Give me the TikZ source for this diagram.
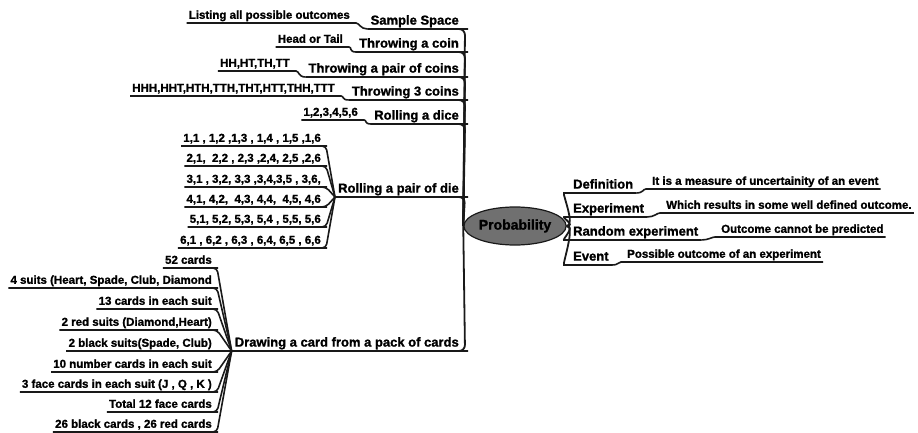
\documentclass[tikz,border=0pt]{standalone}
\usepackage{fontspec}
\setmainfont{Liberation Sans}
\newfontfamily\hb{Liberation Sans Bold}[FakeBold=1.3]
\usetikzlibrary{shapes.geometric}
\definecolor{ellgray}{RGB}{112,112,112}
\definecolor{linecol}{RGB}{25,25,25}
\tikzset{
  topic/.style={font=\fontsize{13}{15}\hb, inner xsep=3pt, inner ysep=1.2pt, text height=9.5pt, text depth=3pt},
  leaf/.style={font=\fontsize{11.5}{13}\hb, inner xsep=2pt, inner ysep=1.2pt, text height=8.5pt, text depth=2.8pt},
  branch/.style={line width=1.8pt, draw=linecol, rounded corners=6pt},
  twig/.style={line width=1.6pt, draw=linecol, rounded corners=4pt},
  center/.style={ellipse, draw=linecol, line width=1.2pt, fill=ellgray, minimum width=84pt, minimum height=38pt, inner sep=0pt, font=\fontsize{14}{16}\hb}
}
\begin{document}
\begin{tikzpicture}[x=1pt,y=-1pt]
\useasboundingbox (0,0) rectangle (918,433);
\node[center] (P) at (515,226) {Probability};

% left topics
\node[topic, anchor=south east] (t1) at (462,29) {Sample Space};
\node[topic, anchor=south east] (t2) at (462,52) {Throwing a coin};
\node[topic, anchor=south east] (t3) at (462,77) {Throwing a pair of coins};
\node[topic, anchor=south east] (t4) at (462,100) {Throwing 3 coins};
\node[topic, anchor=south east] (t5) at (462,124) {Rolling a dice};
\node[topic, anchor=south east] (t6) at (462,197) {Rolling a pair of die};
\node[topic, anchor=south east] (t7) at (462,351) {Drawing a card from a pack of cards};

\foreach \t in {t1,t2,t3,t4,t5,t6,t7}
  \draw[branch] (\t.south west) -- (\t.south east) -- ++(3,0) -- (P.west);

% children of simple topics
\node[leaf, anchor=south east] (c1) at (352,23) {Listing all possible outcomes};
\node[leaf, anchor=south east] (c2) at (345,47) {Head or Tail};
\node[leaf, anchor=south east] (c3) at (292,71) {HH,HT,TH,TT};
\node[leaf, anchor=south east] (c4) at (337,96) {HHH,HHT,HTH,TTH,THT,HTT,THH,TTT};
\node[leaf, anchor=south east] (c5) at (360,120) {1,2,3,4,5,6};
\foreach \c/\t in {c1/t1,c2/t2,c3/t3,c4/t4,c5/t5}
  \draw[twig] (\c.south west) -- (\c.south east) .. controls +(7,0) and +(-7,0) .. (\t.south west);

% dice pairs
\node[leaf, anchor=south east] (d1) at (323,146) {1,1 , 1,2 ,1,3 , 1,4 , 1,5 ,1,6};
\node[leaf, anchor=south east] (d2) at (323,166) {2,1,\ \ 2,2 , 2,3 ,2,4, 2,5 ,2,6};
\node[leaf, anchor=south east] (d3) at (323,187) {3,1 , 3,2, 3,3 ,3,4,3,5 , 3,6,};
\node[leaf, anchor=south east] (d4) at (323,207) {4,1, 4,2,\ \ 4,3, 4,4,\ \ 4,5, 4,6};
\node[leaf, anchor=south east] (d5) at (323,227) {5,1, 5,2, 5,3, 5,4 , 5,5, 5,6};
\node[leaf, anchor=south east] (d6) at (323,248) {6,1 , 6,2 , 6,3 , 6,4, 6,5 , 6,6};
\foreach \d in {d1,d2,d3,d4,d5,d6}
  \draw[twig] (\d.south west) -- (\d.south east) -- ++(3,0) -- (t6.south west);

% cards
\node[leaf, anchor=south east] (k1) at (214,268) {52 cards};
\node[leaf, anchor=south east] (k2) at (214,288) {4 suits (Heart, Spade, Club, Diamond};
\node[leaf, anchor=south east] (k3) at (214,309) {13 cards in each suit};
\node[leaf, anchor=south east] (k4) at (214,330) {2 red suits (Diamond,Heart)};
\node[leaf, anchor=south east] (k5) at (214,351) {2 black suits(Spade, Club)};
\node[leaf, anchor=south east] (k6) at (214,372) {10 number cards in each suit};
\node[leaf, anchor=south east] (k7) at (214,392) {3 face cards in each suit (J , Q , K )};
\node[leaf, anchor=south east] (k8) at (214,412) {Total 12 face cards};
\node[leaf, anchor=south east] (k9) at (214,432) {26 black cards , 26 red cards};
\foreach \k in {k1,k2,k3,k4,k5,k6,k7,k8,k9}
  \draw[twig] (\k.south west) -- (\k.south east) -- ++(3,0) -- (t7.south west);

% right topics
\node[topic, anchor=south west] (r1) at (570,193) {Definition};
\node[topic, anchor=south west] (r2) at (570,217) {Experiment};
\node[topic, anchor=south west] (r3) at (570,240) {Random experiment};
\node[topic, anchor=south west] (r4) at (570,265) {Event};
\foreach \r in {r1,r2,r3,r4}
  \draw[branch] (P.east) .. controls +(9,0) and +(-8,0) .. (\r.south west) -- (\r.south east);

\node[leaf, anchor=south west] (s1) at (650,189) {It is a measure of uncertainity of an event};
\node[leaf, anchor=south west] (s2) at (664,213) {Which results in some well defined outcome.};
\node[leaf, anchor=south west] (s3) at (719,237) {Outcome cannot be predicted};
\node[leaf, anchor=south west] (s4) at (625,262) {Possible outcome of an experiment};
\foreach \s/\r in {s1/r1,s2/r2,s3/r3,s4/r4}
  \draw[twig] (\r.south east) .. controls +(7,0) and +(-7,0) .. (\s.south west) -- (\s.south east);
\end{tikzpicture}
\end{document}
